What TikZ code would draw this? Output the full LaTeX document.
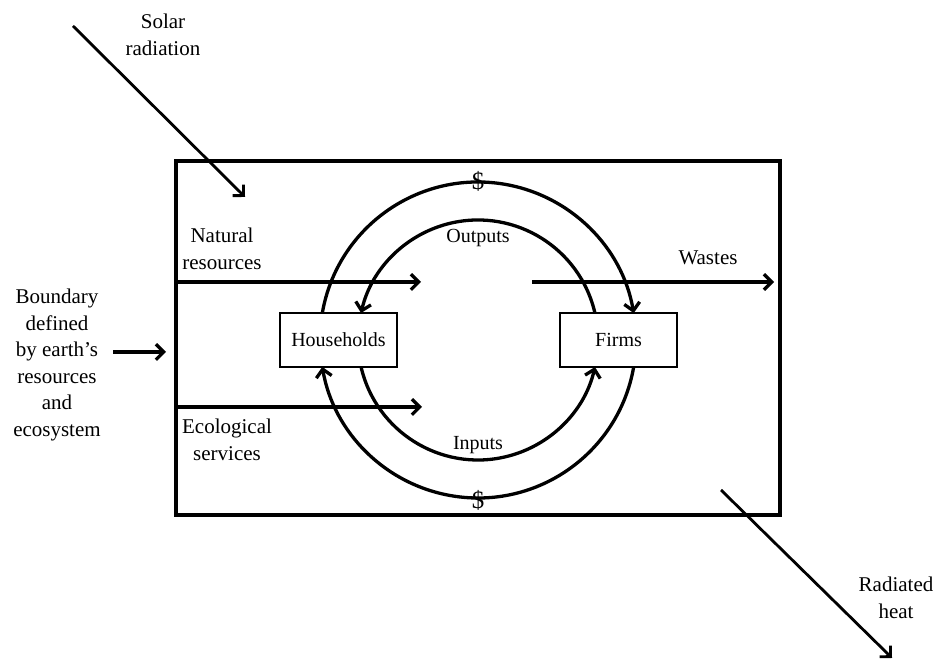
\documentclass[tikz,border=0pt]{standalone}
\usepackage{fontspec}
\setmainfont{Liberation Serif}
\usetikzlibrary{arrows.meta,calc}
\begin{document}
\begin{tikzpicture}[x=1pt,y=1pt,
  flow/.style={line width=3.3pt,-{Straight Barb[angle=90:11pt]}},
  thin flow/.style={line width=2.8pt,-{Straight Barb[angle=90:11pt]}},
  agent/.style={draw,line width=1.5pt,minimum width=117pt,minimum height=54pt,inner sep=0pt,font=\fontsize{20}{24}\selectfont},
  lab/.style={align=center,inner sep=0pt,font=\fontsize{21}{26.5}\selectfont},
  ilab/.style={inner sep=0pt,font=\fontsize{20}{24}\selectfont},
  dlab/.style={inner sep=0pt,font=\fontsize{25}{28}\selectfont}]
\useasboundingbox (0,0) rectangle (937,660);
% boundary box
\draw[line width=3.3pt] (176,145) rectangle (780,499);
\coordinate (C) at (478,320);
\node[agent] (hh) at (338.5,320) {Households};
\node[agent] (firms) at (618.5,320) {Firms};
% circular flows
\draw[flow] ($(C)+(170.2:158)$) arc[start angle=170.2,end angle=9.8,radius=158];
\draw[flow] ($(C)+(13:120)$) arc[start angle=13,end angle=167,radius=120];
\draw[flow] ($(C)+(193:120)$) arc[start angle=193,end angle=347,radius=120];
\draw[flow] ($(C)+(-9.8:158)$) arc[start angle=-9.8,end angle=-170.2,radius=158];
\node[dlab] (d1) at (478,479) {\$};
\node[dlab] (d2) at (478,160) {\$};
\node[ilab] (out) at (478,422) {Outputs};
\node[ilab] (in) at (478,215) {Inputs};
% resource flows
\coordinate (nr0) at (178,378); \coordinate (nr1) at (421,378);
\coordinate (ws0) at (532,378); \coordinate (ws1) at (774,378);
\coordinate (es0) at (178,253); \coordinate (es1) at (422,253);
\draw[flow] (nr0) -- (nr1);
\draw[flow] (ws0) -- (ws1);
\draw[flow] (es0) -- (es1);
\node[lab] (nr) at (222,411) {Natural\\resources};
\node[lab] (ws) at (708,402) {Wastes};
\node[lab] (es) at (227,220) {Ecological\\services};
% outside
\node[lab] (bd) at (57,295) {Boundary\\defined\\by earth's\\resources\\and\\ecosystem};
\coordinate (b0) at (113,308); \coordinate (b1) at (166,308);
\draw[flow] (b0) -- (b1);
\node[lab] (sr) at (163,625) {Solar\\radiation};
\coordinate (s0) at (73,634); \coordinate (s1) at (245,463);
\draw[thin flow] (s0) -- (s1);
\node[lab] (rh) at (896,62) {Radiated\\heat};
\coordinate (r0) at (721,170); \coordinate (r1) at (892,2);
\draw[thin flow] (r0) -- (r1);
\end{tikzpicture}
\end{document}
